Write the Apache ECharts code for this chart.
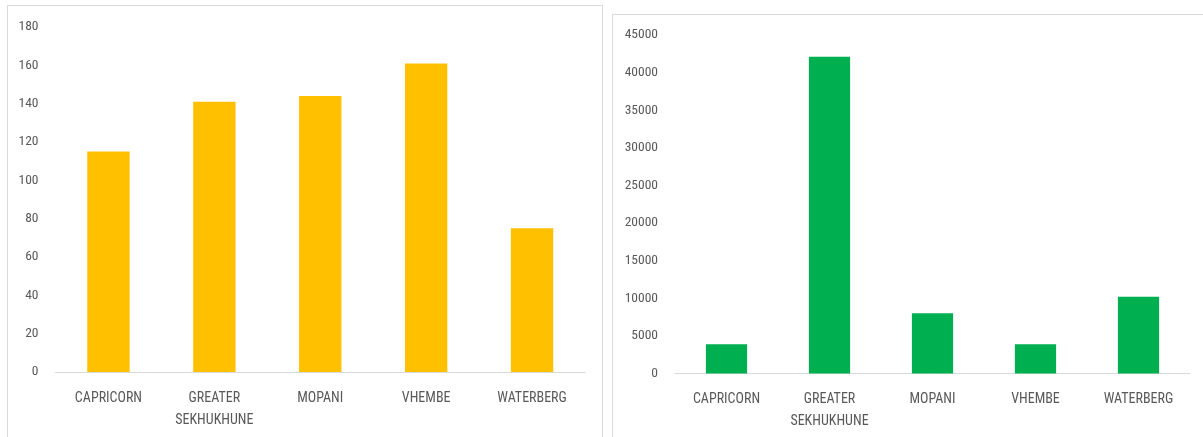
<!DOCTYPE html>
<html>
<head>
<meta charset="utf-8">
<script src="https://cdn.jsdelivr.net/npm/echarts@6/dist/echarts.min.js"></script>
<style>
html,body{margin:0;padding:0;background:#fff;}
#c{width:1203px;height:437px;}
</style>
</head>
<body>
<div id="c"></div>
<script>
const categories = ['CAPRICORN', 'GREATER\nSEKHUKHUNE', 'MOPANI', 'VHEMBE', 'WATERBERG'];
const leftValues = [115, 141, 144, 161, 75];
const rightValues = [3900, 42100, 8000, 3900, 10200];
const leftTicks = {min: 0, max: 180, interval: 20};
const rightTicks = {min: 0, max: 45000, interval: 5000};

const FONT = "'Liberation Sans Narrow', 'Roboto Condensed', 'Liberation Sans', sans-serif";
const chart = echarts.init(document.getElementById('c'), null, {renderer: 'canvas'});

function xAxis(gridIndex) {
  return {
    type: 'category', gridIndex: gridIndex, data: categories,
    axisLine: {show: true, lineStyle: {color: '#d9d9d9', width: 1}},
    axisTick: {show: false},
    axisLabel: {color: '#595959', fontFamily: FONT, fontSize: 14, margin: 15, lineHeight: 22, interval: 0}
  };
}
function yAxis(gridIndex, t) {
  return {
    type: 'value', gridIndex: gridIndex, min: t.min, max: t.max, interval: t.interval,
    axisLine: {show: false}, axisTick: {show: false},
    splitLine: {show: false},
    axisLabel: {color: '#595959', fontFamily: FONT, fontSize: 13.5, margin: 17, formatter: function (v) { return String(v); }}
  };
}

chart.setOption({
  animation: false,
  backgroundColor: '#ffffff',
  graphic: [
    {type: 'rect', shape: {x: 7.5, y: 5.5, width: 595, height: 440}, style: {fill: 'none', stroke: '#d9d9d9', lineWidth: 1}, z: -1},
    {type: 'rect', shape: {x: 612.5, y: 14.5, width: 600, height: 440}, style: {fill: 'none', stroke: '#d9d9d9', lineWidth: 1}, z: -1}
  ],
  grid: [
    {left: 55.5, right: 618, top: 27, bottom: 65},
    {left: 675, right: 13, top: 35, bottom: 63.5}
  ],
  xAxis: [xAxis(0), xAxis(1)],
  yAxis: [yAxis(0, leftTicks), yAxis(1, rightTicks)],
  series: [
    {type: 'bar', xAxisIndex: 0, yAxisIndex: 0, data: leftValues, barWidth: '40%', itemStyle: {color: '#ffc000'}},
    {type: 'bar', xAxisIndex: 1, yAxisIndex: 1, data: rightValues, barWidth: '40%', itemStyle: {color: '#00b050'}}
  ]
});
</script>
</body>
</html>
